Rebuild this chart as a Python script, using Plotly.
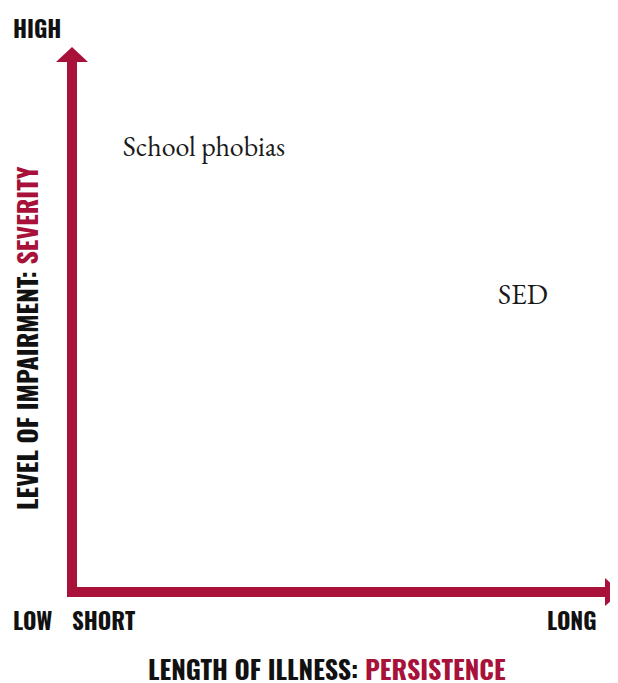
import plotly.graph_objects as go

# Data (axis units = pixels measured from the diagram's origin)
labels = ["School phobias", "SED"]
persistence = [132, 451]     # x: length of illness
severity = [443, 295]        # y: level of impairment

x_ticks = ["SHORT", "LONG"]
y_ticks = ["LOW", "HIGH"]

x_title_black = "LENGTH OF ILLNESS: "
x_title_red = "PERSISTENCE"
y_title_black = "LEVEL OF IMPAIRMENT: "
y_title_red = "SEVERITY"

# axis extents (data units)
X_HEAD_BASE, X_TIP = 533, 549
Y_HEAD_BASE, Y_TIP = 530, 545

RED = "#A7113A"
COND = "Oswald, 'Roboto Condensed', sans-serif"
SERIF = "'EB Garamond', 'Liberation Serif', 'Times New Roman', serif"

fig = go.Figure()
fig.add_trace(go.Scatter(
    x=persistence, y=severity, mode="text", text=labels,
    textposition="middle center",
    textfont=dict(family=SERIF, size=28, color="#1a1a1a"),
    hoverinfo="skip", showlegend=False,
))

lw = 10
shapes = [
    dict(type="line", x0=0, x1=0, y0=-5, y1=Y_HEAD_BASE + 1, line=dict(color=RED, width=lw)),
    dict(type="line", x0=-5, x1=X_HEAD_BASE + 1, y0=0, y1=0, line=dict(color=RED, width=lw)),
    dict(type="path", path=f"M -16 {Y_HEAD_BASE} L 16 {Y_HEAD_BASE} L 0 {Y_TIP} Z",
         fillcolor=RED, line=dict(width=0)),
    dict(type="path", path=f"M {X_HEAD_BASE} -14 L {X_HEAD_BASE} 14 L {X_TIP} 0 Z",
         fillcolor=RED, line=dict(width=0)),
]

tick_font = dict(family=COND, size=23, color="#111111", weight=700)
annos = [
    dict(x=-2, y=-28, text=x_ticks[0], xanchor="left", yanchor="middle", showarrow=False, font=tick_font),
    dict(x=527, y=-28, text=x_ticks[1], xanchor="right", yanchor="middle", showarrow=False, font=tick_font),
    dict(x=-61, y=-28, text=y_ticks[0], xanchor="left", yanchor="middle", showarrow=False, font=tick_font),
    dict(x=-61, y=564, text=y_ticks[1], xanchor="left", yanchor="middle", showarrow=False, font=tick_font),
]

title_font = dict(family=COND, size=26, color="#111111", weight=700)
annos.append(dict(x=255, y=-76, xanchor="center", yanchor="middle", showarrow=False,
                  height=28, valign="middle",
                  text=f"{x_title_black}<span style='color:{RED}'>{x_title_red}</span>",
                  font=title_font))
annos.append(dict(x=-46, y=254, xanchor="center", yanchor="middle", showarrow=False, textangle=-90,
                  text=f"{y_title_black}<span style='color:{RED}'>{y_title_red}</span>",
                  font=title_font))

fig.update_layout(
    width=610, height=675,
    margin=dict(l=0, r=0, t=0, b=0),
    paper_bgcolor="white", plot_bgcolor="white",
    xaxis=dict(range=[-64, 546], visible=False, fixedrange=True),
    yaxis=dict(range=[-91, 584], visible=False, fixedrange=True),
    shapes=shapes, annotations=annos,
)

fig.write_html("out.html")
